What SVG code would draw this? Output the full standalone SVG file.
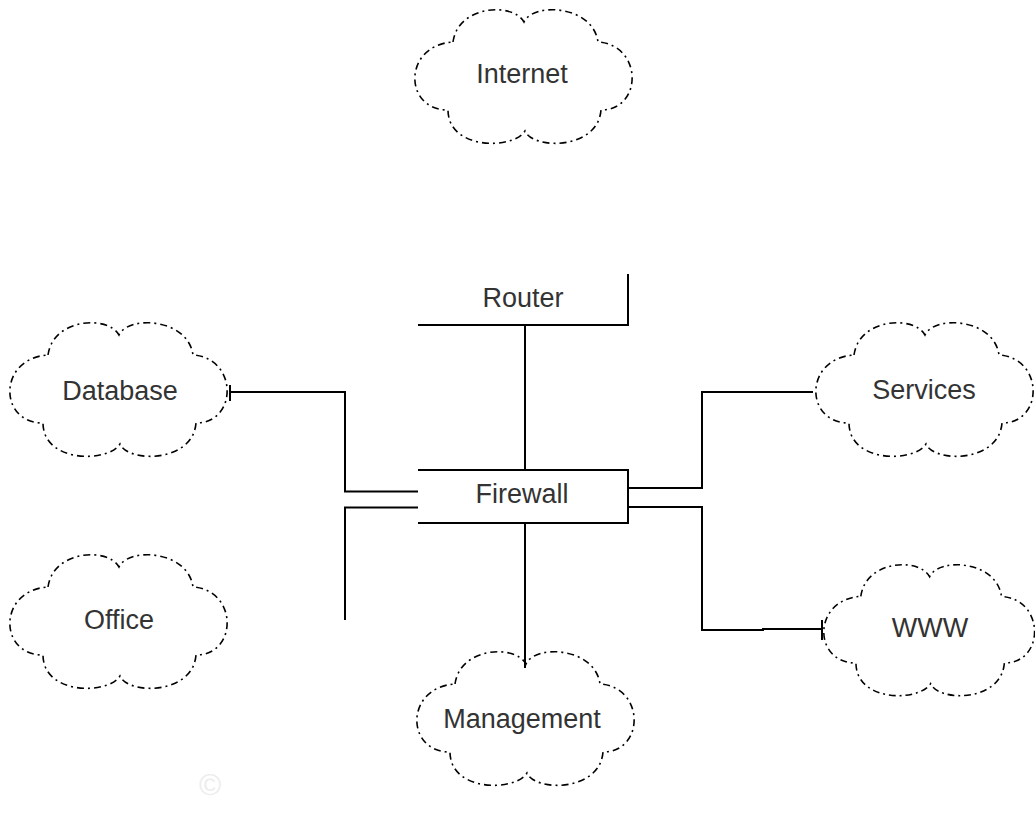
<svg xmlns="http://www.w3.org/2000/svg" xmlns:xlink="http://www.w3.org/1999/xlink" width="1035" height="825" viewBox="0 0 1035 825">
<style>
.cloud{fill:none;stroke:#000;stroke-width:1.6;stroke-dasharray:7 4 2 4}
.wire{fill:none;stroke:#000;stroke-width:2}
.lbl{font-family:"Liberation Sans",Arial,sans-serif;font-size:27px;fill:#333;text-anchor:middle}
</style>
<defs>
<path id="cloud" d="M40,32 C45,-5 100,-8 111,12 C120,-8 180,-5 185,32 C230,35 230,100 188,100 C185,140 120,140 112,121 C100,140 35,140 35,100 C-10,100 -10,35 40,32 Z"/>
</defs>
<rect width="1035" height="825" fill="#fff"/>
<g id="connectors">
<polyline class="wire" points="418,325 628,325 628,274"/>
<line class="wire" x1="525" y1="325" x2="525" y2="470"/>
<line class="wire" x1="230" y1="385" x2="230" y2="401"/>
<polyline class="wire" points="230,392 345,392 345,491.5 418,491.5"/>
<polyline class="wire" points="418,507.5 345,507.5 345,620"/>
<polyline class="wire" points="628,488 702,488 702,392 813,392"/>
<polyline class="wire" points="628,507 702,507 702,630 763,630 763,629 822,629"/>
<line class="wire" x1="822" y1="620" x2="822" y2="640"/>
<line class="wire" x1="525" y1="523" x2="525" y2="668"/>
</g>
<g id="router">
<text class="lbl" x="523" y="307">Router</text>
</g>
<g id="firewall">
<polyline class="wire" points="418,470 628,470 628,523 418,523"/>
<text class="lbl" x="522" y="503">Firewall</text>
</g>
<g id="internet">
<use href="#cloud" class="cloud" transform="translate(413,10)"/>
<text class="lbl" x="522" y="83">Internet</text>
</g>
<g id="database">
<use href="#cloud" class="cloud" transform="translate(8,323)"/>
<text class="lbl" x="120" y="400">Database</text>
</g>
<g id="services">
<use href="#cloud" class="cloud" transform="translate(814,323)"/>
<text class="lbl" x="924" y="399">Services</text>
</g>
<g id="office">
<use href="#cloud" class="cloud" transform="translate(8,555)"/>
<text class="lbl" x="119" y="629">Office</text>
</g>
<g id="www">
<use href="#cloud" class="cloud" transform="translate(822,565) scale(0.97,0.98)"/>
<text class="lbl" x="930" y="637">WWW</text>
</g>
<g id="management">
<use href="#cloud" class="cloud" transform="translate(415,652)"/>
<text class="lbl" x="522" y="728">Management</text>
</g>
<text x="210" y="795" font-family="Liberation Sans, sans-serif" font-size="30" fill="#ececec" text-anchor="middle">©</text>
</svg>
